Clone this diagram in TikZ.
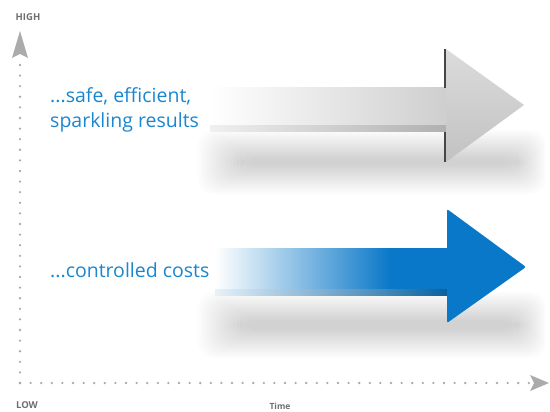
\documentclass[tikz,border=0pt]{standalone}
\usepackage{fontspec}
\setmainfont{Open Sans}
\usepackage{tikz}
\usepackage{xcolor}
\usetikzlibrary{positioning}

\definecolor{arrowblue}{HTML}{0A78C8}
\definecolor{textblue}{HTML}{1A86D0}
\definecolor{axisgray}{HTML}{ABABAB}
\definecolor{labelgray}{HTML}{6E6E6E}

\begin{document}
\begin{tikzpicture}[x=1pt, y=-1pt,
        axislabel/.style={font=\bfseries\fontsize{9.5}{10}\selectfont, text=labelgray, inner sep=0pt},
        claim/.style={font=\fontsize{19.5}{25}\selectfont, text=textblue, align=left, anchor=west, inner sep=0pt},
        dotline/.style={axisgray, line width=2.6pt, line cap=round, dash pattern=on 0pt off 10.6pt},
        shadowblob/.style={black, opacity=0.011, rounded corners=16pt}]
    \useasboundingbox (0,0) rectangle (550,412);

    % axes
    \coordinate (origin) at (20,383);
    \coordinate (ytop) at (20,60);
    \coordinate (xend) at (530,383);
    \draw[dotline] (origin) -- (ytop);
    \draw[dotline] (origin) -- (xend);
    \fill[axisgray] (20,31) -- (28,58) -- (20,54) -- (12,58) -- cycle;
    \fill[axisgray] (549,383) -- (530,391) -- (534,383) -- (530,375) -- cycle;
    \node[axislabel] (high) at (28,17) {HIGH};
    \node[axislabel] (low) at (27,405) {LOW};
    \node[axislabel, font=\bfseries\fontsize{8.5}{9}\selectfont] (time) at (280,406) {Time};

    % shadows
    \foreach \i in {0,...,14}
        \fill[shadowblob] (198+\i*3,130+\i*2) rectangle (546-\i*2,194-\i*2);
    \foreach \i in {0,...,14}
        \fill[shadowblob] (198+\i*3,292+\i*2) rectangle (546-\i*2,358-\i*2);

    % gray arrow
    \shade[left color=white, right color=gray!38] (210,88) rectangle (446,132);
    \shade[left color=gray!12, right color=gray!62] (210,126) rectangle (446,132);
    \shade[top color=gray!28, bottom color=gray!48] (446,49) -- (524,105) -- (446,162) -- cycle;
    \draw[gray!55!black, line width=2.2pt] (445,49) -- (445,88);
    \draw[gray!55!black, line width=2.2pt] (445,132) -- (445,162);

    % blue arrow
    \shade[left color=white, right color=arrowblue] (215,248) rectangle (390,295);
    \fill[arrowblue] (389,248) rectangle (448,295);
    \shade[left color=arrowblue!10, right color=arrowblue!80!black] (215,289) rectangle (448,295);
    \fill[arrowblue, rounded corners=2pt] (447,209) -- (526,267) -- (447,323) -- cycle;

    % texts
    \node[claim] (quality) at (50,110) {...safe, efficient,\\sparkling results};
    \node[claim] (costs) at (50,270) {...controlled costs};
\end{tikzpicture}
\end{document}
